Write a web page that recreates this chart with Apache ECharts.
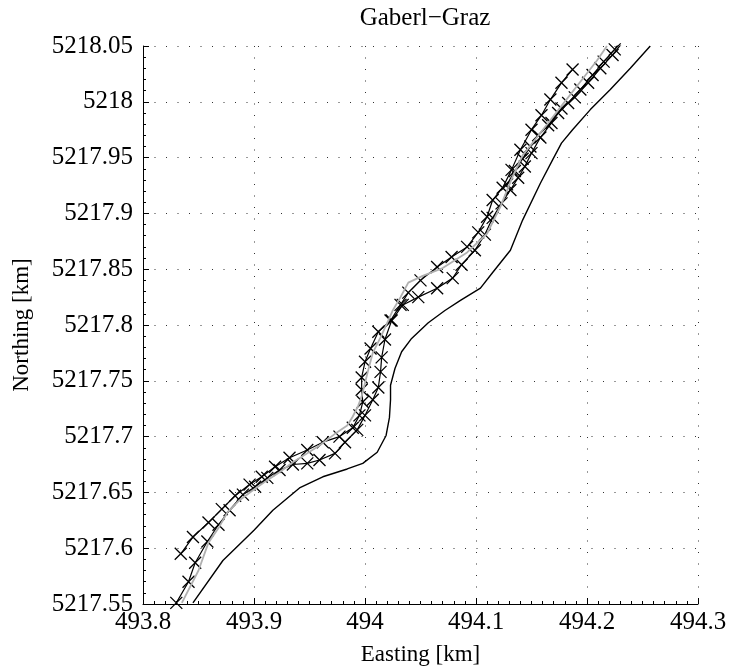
<!DOCTYPE html>
<html>
<head>
<meta charset="utf-8">
<title>Gaberl–Graz</title>
<script src="https://cdn.jsdelivr.net/npm/echarts@6/dist/echarts.min.js"></script>
<style>
  html, body { margin: 0; padding: 0; background: #fff; }
  #chart { width: 731px; height: 672px; }
</style>
</head>
<body>
<div id="chart"></div>
<script>
// Road reference line (plain black), [easting km, northing km]
const roadLine = [
  [493.845, 5217.551], [493.872, 5217.589], [493.900, 5217.616], [493.917, 5217.634],
  [493.941, 5217.654], [493.962, 5217.664], [493.984, 5217.671], [493.998, 5217.676],
  [494.011, 5217.686], [494.019, 5217.701], [494.022, 5217.717], [494.023, 5217.733],
  [494.023, 5217.746], [494.027, 5217.761], [494.033, 5217.776], [494.042, 5217.788],
  [494.057, 5217.802], [494.072, 5217.813], [494.086, 5217.822], [494.104, 5217.833],
  [494.115, 5217.847], [494.131, 5217.867], [494.142, 5217.894], [494.158, 5217.927],
  [494.169, 5217.948], [494.177, 5217.963], [494.187, 5217.975], [494.203, 5217.993],
  [494.221, 5218.011], [494.239, 5218.030], [494.257, 5218.050]
];

// Smoothed track (grey)
const smoothTrack = [
  [493.835, 5217.551], [493.850, 5217.580], [493.859, 5217.605], [493.868, 5217.618],
  [493.876, 5217.632], [493.887, 5217.643], [493.899, 5217.652], [493.912, 5217.661],
  [493.923, 5217.668], [493.935, 5217.677], [493.948, 5217.685], [493.959, 5217.692],
  [493.975, 5217.704], [493.984, 5217.710], [493.989, 5217.718], [493.994, 5217.728],
  [493.997, 5217.736], [494.000, 5217.748], [494.003, 5217.760], [494.007, 5217.775],
  [494.014, 5217.789], [494.020, 5217.802], [494.025, 5217.813], [494.032, 5217.825],
  [494.039, 5217.838], [494.052, 5217.844], [494.070, 5217.851], [494.092, 5217.865],
  [494.110, 5217.882], [494.122, 5217.906], [494.133, 5217.933], [494.142, 5217.952],
  [494.158, 5217.972], [494.176, 5217.995], [494.194, 5218.018], [494.209, 5218.037],
  [494.218, 5218.050]
];

// GPS fixes, first run
const fixesRunA = [
  [493.834, 5217.595], [493.845, 5217.610], [493.859, 5217.623], [493.871, 5217.635],
  [493.883, 5217.647], [493.896, 5217.657], [493.907, 5217.664], [493.919, 5217.673],
  [493.932, 5217.681], [493.948, 5217.688], [493.962, 5217.695], [493.977, 5217.700],
  [493.989, 5217.708], [493.995, 5217.719], [493.998, 5217.731], [493.997, 5217.742],
  [493.997, 5217.753], [494.000, 5217.767], [494.005, 5217.779], [494.012, 5217.794],
  [494.023, 5217.804], [494.032, 5217.818], [494.039, 5217.829], [494.050, 5217.840],
  [494.065, 5217.852], [494.078, 5217.861], [494.092, 5217.870], [494.102, 5217.883],
  [494.110, 5217.897], [494.115, 5217.912], [494.124, 5217.923], [494.132, 5217.939],
  [494.140, 5217.957], [494.150, 5217.975], [494.159, 5217.988], [494.167, 5218.002],
  [494.177, 5218.017], [494.187, 5218.029]
];

// GPS fixes, second run
const fixesRunB = [
  [493.830, 5217.551], [493.841, 5217.570], [493.847, 5217.587], [493.858, 5217.606],
  [493.868, 5217.621], [493.878, 5217.634], [493.890, 5217.648], [493.901, 5217.655],
  [493.912, 5217.663], [493.923, 5217.670], [493.935, 5217.675], [493.948, 5217.676],
  [493.959, 5217.679], [493.973, 5217.685], [493.982, 5217.695], [493.993, 5217.706],
  [494.000, 5217.719], [494.007, 5217.733], [494.012, 5217.744], [494.014, 5217.758],
  [494.015, 5217.771], [494.018, 5217.787], [494.024, 5217.804], [494.034, 5217.818],
  [494.048, 5217.825], [494.065, 5217.833], [494.079, 5217.842], [494.087, 5217.854],
  [494.099, 5217.867], [494.108, 5217.881], [494.115, 5217.896], [494.123, 5217.909],
  [494.131, 5217.921], [494.138, 5217.932], [494.144, 5217.942], [494.150, 5217.954],
  [494.158, 5217.968], [494.168, 5217.981], [494.177, 5217.994], [494.189, 5218.004],
  [494.201, 5218.017], [494.212, 5218.030], [494.223, 5218.042], [494.232, 5218.053]
];

// GPS fixes, third run (upper section)
const fixesRunC = [
  [494.128, 5217.926], [494.135, 5217.938], [494.142, 5217.949], [494.149, 5217.960],
  [494.156, 5217.970], [494.165, 5217.979], [494.174, 5217.990], [494.183, 5217.999],
  [494.194, 5218.011], [494.205, 5218.024], [494.215, 5218.036], [494.225, 5218.047],
  [494.229, 5218.053]
];

// Axis ranges and tick spacing
const eastRange = [493.8, 494.3];
const eastStep = 0.1;
const northRange = [5217.55, 5218.05];
const northStep = 0.05;

const serif = '"Liberation Serif", "DejaVu Serif", serif';
const crossSymbol = 'path://M0,0L10,10M10,0L0,10';

function trimNum(v, d) {
  return String(parseFloat(Number(v).toFixed(d)));
}

function fixSeries(name, data) {
  return {
    name: name,
    type: 'line',
    data: data,
    symbol: crossSymbol,
    symbolSize: 12,
    showAllSymbol: true,
    lineStyle: { color: '#000', width: 1.2 },
    itemStyle: { color: 'rgba(0,0,0,0)', borderColor: '#000', borderWidth: 1.3 },
    clip: true,
    z: 3
  };
}

const chart = echarts.init(document.getElementById('chart'), null, { renderer: 'canvas' });

const axisCommon = {
  type: 'value',
  axisLine: { show: true, onZero: false, lineStyle: { color: '#000', width: 1 } },
  axisTick: { show: true, inside: true, length: 6, lineStyle: { color: '#000', width: 1 } },
  minorTick: { show: true, length: 3, lineStyle: { color: '#000', width: 1 } },
  splitLine: {
    show: true,
    showMinLine: true,
    showMaxLine: true,
    lineStyle: { color: '#333', width: 1, type: [1, 10.5] }
  },
  axisLabel: { color: '#000', fontFamily: serif, fontSize: 25 },
  nameTextStyle: { color: '#000', fontFamily: serif, fontSize: 23 },
  nameLocation: 'middle'
};

chart.setOption({
  animation: false,
  backgroundColor: '#fff',
  title: {
    text: 'Gaberl\u2212Graz',
    left: 420,
    top: 1,
    textAlign: 'center',
    textStyle: { color: '#000', fontFamily: serif, fontSize: 25, fontWeight: 'normal' }
  },
  grid: { left: 143, right: 33, top: 46, bottom: 68, containLabel: false },
  xAxis: Object.assign({}, axisCommon, {
    min: eastRange[0],
    max: eastRange[1],
    interval: eastStep,
    minorTick: Object.assign({}, axisCommon.minorTick, { splitNumber: 10 }),
    axisLabel: Object.assign({}, axisCommon.axisLabel, {
      margin: 6,
      formatter: function (v) { return trimNum(v, 2); }
    }),
    name: 'Easting [km]',
    nameGap: 39
  }),
  yAxis: Object.assign({}, axisCommon, {
    min: northRange[0],
    max: northRange[1],
    interval: northStep,
    minorTick: Object.assign({}, axisCommon.minorTick, { splitNumber: 5 }),
    axisLabel: Object.assign({}, axisCommon.axisLabel, {
      margin: 10,
      formatter: function (v) { return trimNum(v, 3); }
    }),
    name: 'Northing [km]',
    nameGap: 110,
    nameRotate: 90
  }),
  series: [
    {
      name: 'road',
      type: 'line',
      data: roadLine,
      symbol: 'none',
      lineStyle: { color: '#000', width: 1.4 },
      clip: true,
      z: 2
    },
    fixSeries('run A', fixesRunA),
    fixSeries('run B', fixesRunB),
    fixSeries('run C', fixesRunC),
    {
      name: 'smoothed',
      type: 'line',
      data: smoothTrack,
      symbol: 'none',
      lineStyle: { color: '#b0b0b0', width: 1.8 },
      clip: true,
      z: 4
    }
  ]
});
</script>
</body>
</html>
